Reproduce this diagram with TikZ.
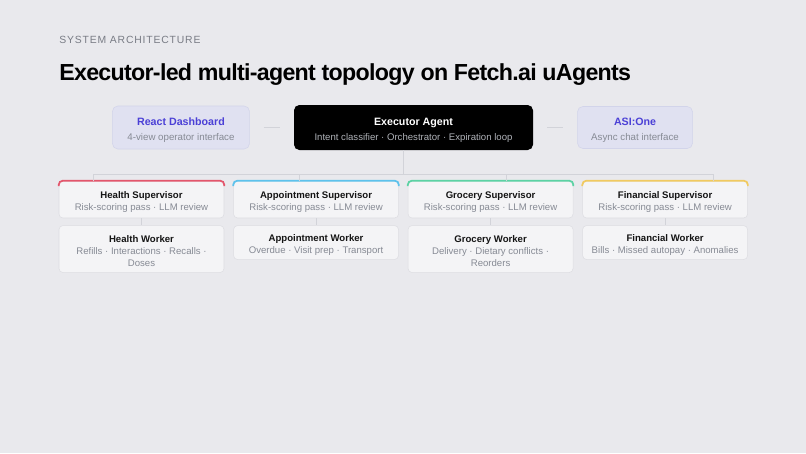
\documentclass[tikz,border=0pt]{standalone}
\usepackage{fontspec}
\setmainfont{Liberation Sans}
\newfontfamily\spacedfont[LetterSpace=8]{Liberation Sans}
\newfontfamily\headfont[LetterSpace=-3]{Liberation Sans}
\usepackage{xcolor}
\usetikzlibrary{arrows, positioning}

\definecolor{pagebg}{HTML}{E9E9ED}
\definecolor{cardbg}{HTML}{F4F4F6}
\definecolor{cardline}{HTML}{DDDDE2}
\definecolor{lavbg}{HTML}{E0E1F1}
\definecolor{lavline}{HTML}{D2D4EA}
\definecolor{indigo}{HTML}{4B40D6}
\definecolor{subgray}{HTML}{868A94}
\definecolor{inkdark}{HTML}{141414}
\definecolor{wire}{HTML}{D2D3D9}
\definecolor{barred}{HTML}{E3566C}
\definecolor{barblue}{HTML}{5DC2EC}
\definecolor{bargreen}{HTML}{5CD2A4}
\definecolor{baryellow}{HTML}{F1CA60}

\newcommand{\cardhead}[1]{\rule{0pt}{9pt}{\color{inkdark}\bfseries #1}}
\newcommand{\boxhead}[2]{\rule{0pt}{10pt}{\color{#1}\bfseries\fontsize{8}{11}\selectfont #2}}

\begin{document}
\begin{tikzpicture}[x=0.75pt,y=-0.75pt,node distance=6.75pt]
    \tikzstyle{side}=[shape=rectangle,rounded corners=4pt,draw=lavline,fill=lavbg,align=center,
        inner ysep=2pt,font=\fontsize{7.3}{11}\selectfont,text=subgray]
    \tikzstyle{core}=[shape=rectangle,rounded corners=4pt,fill=black,align=center,inner ysep=2pt,
        minimum width=179.25pt,minimum height=33.75pt,font=\fontsize{7.2}{11}\selectfont,text=subgray!65]
    \tikzstyle{card}=[shape=rectangle,rounded corners=3pt,draw=cardline,fill=cardbg,align=center,
        minimum width=123.75pt,minimum height=25.5pt,inner ysep=2.95pt,
        font=\fontsize{7.2}{9}\selectfont,text=subgray]
    \tikzstyle{lead}=[card,minimum height=27.75pt]
    \tikzstyle{tall}=[card,minimum height=35.25pt]
    \tikzstyle{wire}=[draw=wire,line width=0.6pt]
    \tikzstyle{bar}=[line width=1.3pt,rounded corners=3pt]

    \fill[pagebg] (0,0) rectangle (806,453);

    \node[anchor=base west,inner sep=0pt,text=subgray!90!black,font=\spacedfont\fontsize{7.8}{10}\selectfont] (K) at (59,44) {SYSTEM ARCHITECTURE};
    \node[anchor=base west,inner sep=0pt,text=black,font=\headfont\bfseries\fontsize{17.4}{20}\selectfont] (T) at (59,80) {Executor-led multi-agent topology on Fetch.ai uAgents};

    \node[core] (E) at (413.5,127.5) {\boxhead{white}{Executor Agent}\\Intent classifier · Orchestrator · Expiration loop};
    \node[side, minimum width=102.75pt, minimum height=32.25pt, left=33pt of E] (D) {\boxhead{indigo}{React Dashboard}\\4-view operator interface};
    \node[side, minimum width=86.25pt, minimum height=31.5pt, right=33pt of E] (A) {\boxhead{indigo}{ASI:One}\\Async chat interface};

    \node[lead] (S0) at (141.5,199.5) {\cardhead{Health Supervisor}\\Risk-scoring pass · LLM review};
    \node[lead, right=of S0] (S1) {\cardhead{Appointment Supervisor}\\Risk-scoring pass · LLM review};
    \node[lead, right=of S1] (S2) {\cardhead{Grocery Supervisor}\\Risk-scoring pass · LLM review};
    \node[lead, right=of S2] (S3) {\cardhead{Financial Supervisor}\\Risk-scoring pass · LLM review};

    \node[tall, below=5.25pt of S0] (W0) {\cardhead{Health Worker}\\Refills · Interactions · Recalls ·\\Doses};
    \node[card, below=5.25pt of S1] (W1) {\cardhead{Appointment Worker}\\Overdue · Visit prep · Transport};
    \node[tall, below=5.25pt of S2] (W2) {\cardhead{Grocery Worker}\\Delivery · Dietary conflicts ·\\Reorders};
    \node[card, below=5.25pt of S3] (W3) {\cardhead{Financial Worker}\\Bills · Missed autopay · Anomalies};

    % colored top edges
    \draw[bar, barred] ([yshift=-4pt]S0.north west) -- (S0.north west) -- (S0.north east) -- ([yshift=-4pt]S0.north east);
    \draw[bar, barblue] ([yshift=-4pt]S1.north west) -- (S1.north west) -- (S1.north east) -- ([yshift=-4pt]S1.north east);
    \draw[bar, bargreen] ([yshift=-4pt]S2.north west) -- (S2.north west) -- (S2.north east) -- ([yshift=-4pt]S2.north east);
    \draw[bar, baryellow] ([yshift=-4pt]S3.north west) -- (S3.north west) -- (S3.north east) -- ([yshift=-4pt]S3.north east);

    % bus
    \coordinate (H) at (403,174);
    \coordinate (B0) at (93,174);
    \coordinate (B1) at (299,174);
    \coordinate (B2) at (506,174);
    \coordinate (B3) at (713,174);

    \path[wire, shorten <=10.5pt, shorten >=10.5pt]
    (D) edge (E)
    (E) edge (A)
    ;
    \path[wire]
    (E.south -| H) edge (H)
    (B0) edge (B3)
    (B0) edge (B0 |- S0.north)
    (B1) edge (B1 |- S1.north)
    (B2) edge (B2 |- S2.north)
    (B3) edge (B3 |- S3.north)
    (S0) edge (W0)
    (S1) edge (W1)
    (S2) edge (W2)
    (S3) edge (W3)
    ;
\end{tikzpicture}
\end{document}
